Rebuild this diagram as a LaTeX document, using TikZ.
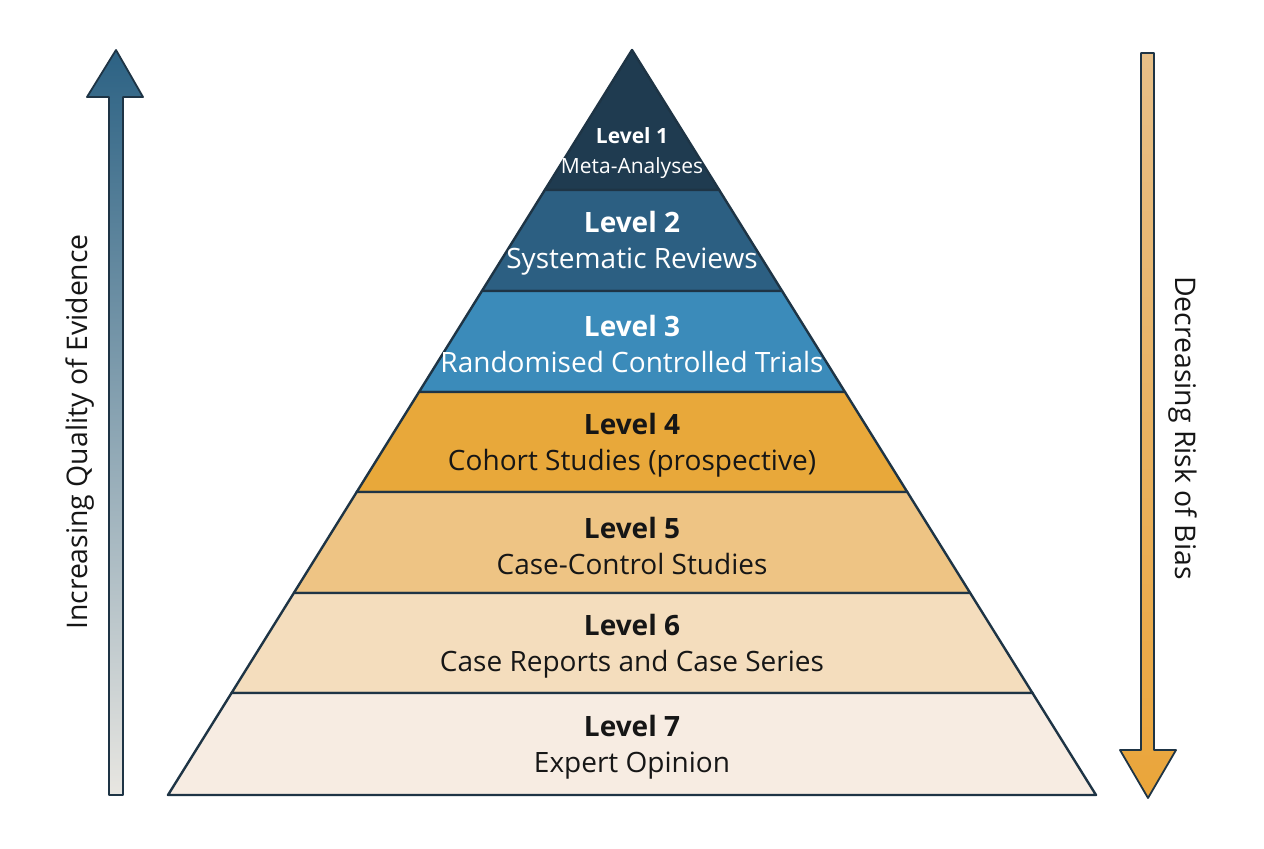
\documentclass[tikz,border=0pt]{standalone}
\usepackage{fontspec}
\setmainfont{Open Sans}
\usetikzlibrary{calc}
\definecolor{ink}{HTML}{1E3445}
\definecolor{txtdark}{HTML}{161616}
\definecolor{lvA}{HTML}{1F3B50}
\definecolor{lvB}{HTML}{2C5F82}
\definecolor{lvC}{HTML}{3B8BBA}
\definecolor{lvD}{HTML}{E8A83A}
\definecolor{lvE}{HTML}{EEC484}
\definecolor{lvF}{HTML}{F4DDBD}
\definecolor{lvG}{HTML}{F7ECE2}
\definecolor{upTop}{HTML}{2C6284}
\definecolor{upBot}{HTML}{E8E6E1}
\definecolor{dnTop}{HTML}{E6BF88}
\definecolor{dnBot}{HTML}{EAA53A}
\begin{document}
\begin{tikzpicture}[x=0.5pt,y=-0.5pt,line join=round,line cap=round,
    edge/.style={draw=ink,line width=1.2pt},
    lvl/.style={align=center,font=\fontsize{14}{18}\selectfont},
    side/.style={text=txtdark,font=\fontsize{14.2}{16}\selectfont}]
  \useasboundingbox[fill=white] (0,0) rectangle (1264,848);
  \coordinate (apex) at (632,50);
  \coordinate (bl) at (168,795);
  \coordinate (br) at (1096,795);
  % pyramid bands
  \foreach \ya/\yb/\col in {50/190/lvA,190/291/lvB,291/392/lvC,392/492/lvD,492/593/lvE,593/693/lvF,693/795/lvG}
    \filldraw[fill=\col,edge] ($(apex)!{(\ya-50)/745}!(bl)$) -- ($(apex)!{(\yb-50)/745}!(bl)$)
      -- ($(apex)!{(\yb-50)/745}!(br)$) -- ($(apex)!{(\ya-50)/745}!(br)$) -- cycle;
  % labels
  \node[lvl,text=white,font=\fontsize{10.5}{15}\selectfont] (l1) at (632,153) {\textbf{Level 1}\\Meta-Analyses};
  \foreach \y/\tc/\txt [count=\i from 2] in {243/white/Systematic Reviews,344/white/Randomised Controlled Trials,
      445/txtdark/Cohort Studies (prospective),546/txtdark/Case-Control Studies,
      646/txtdark/Case Reports and Case Series,747/txtdark/Expert Opinion}
    \node[lvl,text=\tc] (l\i) at (632,\y) {\textbf{Level \i}\\\txt};
  % side arrows
  \draw[edge,line width=0.9pt,top color=upTop,bottom color=upBot]
    (116,50) -- (143,97) -- (123,97) -- (123,795) -- (109,795) -- (109,97) -- (87,97) -- cycle;
  \draw[edge,line width=0.9pt,top color=dnTop,bottom color=dnBot]
    (1141,53) -- (1154,53) -- (1154,750) -- (1176,750) -- (1148,798) -- (1120,750) -- (1141,750) -- cycle;
  \node[side,rotate=90] (qual) at (80,432) {Increasing Quality of Evidence};
  \node[side,rotate=-90] (bias) at (1183,428) {Decreasing Risk of Bias};
\end{tikzpicture}
\end{document}
